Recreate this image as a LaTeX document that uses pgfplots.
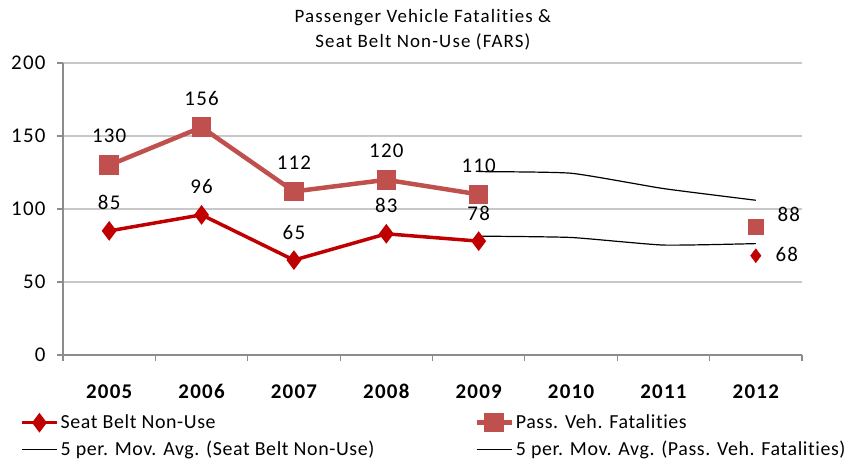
\documentclass[border=0pt]{standalone}
\usepackage{fontspec}
\setmainfont{Carlito}[Ligatures=NoCommon, LetterSpace=6]
\newfontfamily\legf{Carlito}[Ligatures=NoCommon, LetterSpace=3]
\usepackage{pgfplots}
\pgfplotsset{compat=1.18}
\definecolor{belt}{HTML}{C00000}
\definecolor{pass}{HTML}{C0504D}
\definecolor{gridc}{HTML}{C8C8C8}
\definecolor{axc}{HTML}{8C8C8C}
\newcommand{\f}{\fontsize{21}{25}\selectfont}

\begin{document}
\begin{tikzpicture}
\useasboundingbox (-63bp,-109bp) rectangle (788bp,355bp);
\begin{axis}[
    scale only axis, width=739bp, height=292bp,
    xmin=-0.5, xmax=7.5, ymin=0, ymax=200,
    clip=false,
    xtick={-0.5,0.5,...,7.5}, x tick label as interval,
    xticklabels={2005,2006,2007,2008,2009,2010,2011,2012},
    ytick={0,50,100,150,200},
    axis x line*=bottom, axis y line*=left,
    axis line style={-, axc, line width=1.2bp},
    ymajorgrids, grid style={gridc, line width=1.2bp},
    tick align=outside, major tick length=6bp,
    tick style={axc, line width=1.2bp},
    /pgf/number format/assume math mode=true,
    xticklabel style={font=\f\bfseries, yshift=-20bp},
    yticklabel style={font=\f, xshift=-8bp},
    legend columns=2,
    legend cell align=left,
    legend style={at={(-0.0582,-0.198)}, anchor=north west, draw=none, fill=none,
        font=\legf\fontsize{20}{24}\selectfont, inner sep=0pt, row sep=7bp,
        /tikz/every even column/.append style={column sep=98bp}},
    legend image code/.code={\draw[mark repeat=2, mark phase=2, #1]
        plot coordinates {(0bp,0bp) (17.5bp,0bp) (35bp,0bp)};},
    every node near coord/.append style={font=\f, text=black, anchor=center},
]
\addplot[belt, line width=3.5bp, mark=diamond*, mark size=7bp, mark options={solid},
    nodes near coords, every node near coord/.append style={yshift=28bp}]
    coordinates {(0,85)(1,96)(2,65)(3,83)(4,78)};
\addlegendentry{Seat Belt Non-Use}
\addplot[pass, line width=4.5bp, mark=square*, mark size=7.5bp, mark options={solid},
    nodes near coords, every node near coord/.append style={yshift=29bp}]
    coordinates {(0,130)(1,156)(2,112)(3,120)(4,110)};
\addlegendentry{Pass. Veh. Fatalities}
\addplot[black, line width=1.2bp, smooth, tension=0.3]
    coordinates {(4,81.4)(5,80.5)(6,75.3)(7,76.3)};
\addlegendentry{5 per. Mov. Avg. (Seat Belt Non-Use)}
\addplot[black, line width=1.2bp, smooth, tension=0.3]
    coordinates {(4,125.6)(5,124.5)(6,114)(7,106)};
\addlegendentry{5 per. Mov. Avg. (Pass. Veh. Fatalities)}
\addplot[belt, only marks, mark=diamond*, mark size=7bp, forget plot,
    nodes near coords, every node near coord/.append style={xshift=31bp, yshift=1bp}]
    coordinates {(7,68)};
\addplot[pass, only marks, mark=square*, mark size=7.5bp, forget plot,
    nodes near coords, every node near coord/.append style={xshift=33bp, yshift=12bp}]
    coordinates {(7,88)};
\node[font=\fontsize{19}{23}\selectfont, align=center, anchor=center]
    at (rel axis cs:0.487,1) [yshift=33bp]
    {Passenger Vehicle Fatalities \&\\[2bp] Seat Belt Non-Use (FARS)};
\end{axis}
\end{tikzpicture}
\end{document}
